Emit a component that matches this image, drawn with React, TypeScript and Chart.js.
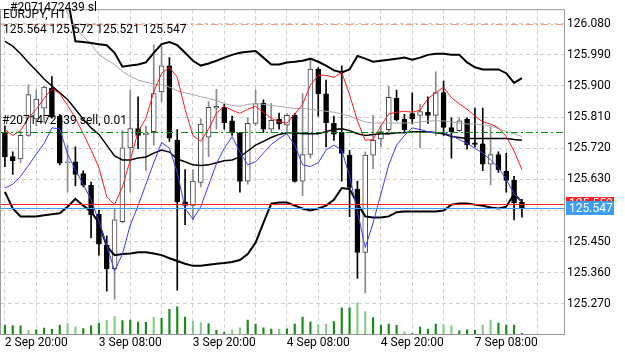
import React, { useEffect, useRef } from 'react';
import { Chart, registerables } from 'chart.js';
Chart.register(...registerables);

// ---- data ----
const opens = [125.765,125.696,125.689,125.757,125.805,125.836,125.894,125.813,125.678,125.681,125.647,125.613,125.530,125.440,125.372,125.508,125.721,125.777,125.759,125.768,125.883,125.958,125.743,125.565,125.555,125.621,125.752,125.836,125.838,125.799,125.764,125.625,125.792,125.850,125.775,125.804,125.787,125.815,125.625,125.702,125.949,125.877,125.792,125.766,125.700,125.602,125.419,125.700,125.747,125.774,125.864,125.804,125.820,125.815,125.824,125.815,125.881,125.780,125.771,125.804,125.736,125.733,125.674,125.702,125.653,125.627,125.564];
const highs = [125.785,125.710,125.768,125.903,125.889,125.900,125.927,125.818,125.729,125.724,125.655,125.622,125.541,125.467,125.546,125.771,125.888,125.869,125.785,126.019,126.014,125.982,125.774,125.658,125.658,125.805,125.855,125.890,125.847,125.813,125.766,125.808,125.888,125.860,125.850,125.822,125.821,125.821,125.878,125.977,125.953,125.917,125.813,125.958,125.714,125.625,125.710,125.815,125.785,125.899,125.888,125.818,125.880,125.847,125.869,125.941,125.914,125.808,125.808,125.808,125.836,125.836,125.785,125.710,125.705,125.639,125.572];
const lows = [125.667,125.644,125.678,125.754,125.785,125.794,125.807,125.672,125.594,125.611,125.608,125.461,125.411,125.307,125.283,125.504,125.594,125.719,125.656,125.729,125.855,125.740,125.310,125.499,125.513,125.608,125.696,125.775,125.775,125.757,125.593,125.616,125.785,125.766,125.766,125.775,125.766,125.622,125.583,125.691,125.813,125.724,125.743,125.625,125.522,125.344,125.302,125.661,125.724,125.761,125.799,125.768,125.790,125.721,125.792,125.757,125.757,125.691,125.768,125.717,125.723,125.655,125.614,125.650,125.593,125.513,125.521];
const closes = [125.695,125.684,125.757,125.875,125.862,125.897,125.811,125.677,125.679,125.644,125.613,125.527,125.443,125.372,125.513,125.721,125.777,125.757,125.764,125.878,125.958,125.749,125.565,125.555,125.625,125.790,125.838,125.841,125.794,125.764,125.624,125.792,125.849,125.775,125.801,125.790,125.815,125.624,125.702,125.949,125.878,125.794,125.761,125.705,125.607,125.419,125.700,125.743,125.768,125.867,125.802,125.774,125.805,125.826,125.815,125.881,125.780,125.768,125.799,125.730,125.731,125.674,125.702,125.658,125.627,125.562,125.547];
const volumes = [558,522,498,222,258,360,282,558,642,438,342,498,678,840,1080,822,858,738,720,1038,960,1518,1680,1038,798,702,642,222,120,258,378,858,618,378,300,300,318,618,1038,738,582,618,762,1620,1620,1938,1380,1020,558,618,540,138,30,420,300,618,582,498,198,258,240,558,858,678,558,558,42];
const volumeShade = [0,0,0,1,0,0,0,0,1,1,0,0,0,1,1,0,0,0,0,1,0,0,0,0,1,1,0,0,0,1,1,0,0,0,0,1,0,0,0,0,1,1,0,0,0,1,1,0,0,0,0,1,0,0,0,0,1,1,0,0,0,1,1,0,0,0,0];
const bbUpper = [null,null,null,null,null,null,null,126.263,126.156,126.029,126.027,126.024,126.021,126.018,125.996,125.956,125.959,125.962,125.968,125.996,126.021,126.027,126.018,125.996,125.973,125.959,125.965,125.973,125.982,125.990,125.996,125.999,126.001,125.982,125.962,125.962,125.968,125.970,125.973,125.979,125.970,125.959,125.945,125.939,125.948,125.987,125.979,125.970,125.973,125.976,125.979,125.982,125.976,125.982,125.990,125.993,125.993,125.990,125.990,125.968,125.954,125.948,125.948,125.948,125.937,125.909,125.923];
const bbMiddle = [126.029,126.015,125.993,125.968,125.945,125.920,125.900,125.880,125.861,125.833,125.804,125.779,125.760,125.729,125.698,125.686,125.686,125.692,125.695,125.706,125.715,125.709,125.689,125.681,125.672,125.670,125.672,125.678,125.684,125.686,125.695,125.712,125.729,125.740,125.751,125.760,125.765,125.765,125.762,125.762,125.762,125.768,125.774,125.776,125.771,125.762,125.757,125.760,125.762,125.762,125.765,125.765,125.768,125.768,125.768,125.765,125.762,125.754,125.751,125.748,125.748,125.748,125.748,125.748,125.748,125.745,125.743];
const bbLower = [125.594,125.546,125.523,125.523,125.523,125.526,125.529,125.532,125.551,125.574,125.554,125.537,125.504,125.436,125.411,125.414,125.416,125.419,125.419,125.416,125.411,125.402,125.394,125.386,125.380,125.380,125.383,125.386,125.388,125.391,125.397,125.414,125.447,125.504,125.560,125.563,125.563,125.554,125.546,125.540,125.546,125.554,125.571,125.605,125.602,125.560,125.523,125.520,125.520,125.523,125.535,125.537,125.537,125.537,125.537,125.537,125.540,125.557,125.560,125.560,125.557,125.554,125.549,125.546,125.551,125.588,125.565];
const maGray = [null,null,null,null,null,null,null,126.164,126.108,126.069,126.043,126.021,125.990,125.976,125.962,125.942,125.928,125.917,125.911,125.906,125.903,125.897,125.886,125.880,125.875,125.869,125.864,125.858,125.849,125.844,125.841,125.847,125.849,125.847,125.844,125.841,125.838,125.835,125.835,125.833,125.830,125.827,125.824,125.819,125.813,125.804,125.796,125.793,125.793,125.793,125.793,125.793,125.793,125.796,125.799,125.799,125.799,125.796,125.793,125.790,125.790,125.788,125.785,125.776,125.768,125.762,125.754];
const maRed = [125.774,125.757,125.771,125.807,125.833,125.864,125.892,125.878,125.844,125.807,125.762,125.715,125.664,125.580,125.557,125.608,125.686,125.768,125.807,125.883,125.937,125.954,125.925,125.833,125.757,125.740,125.776,125.821,125.841,125.830,125.821,125.833,125.841,125.824,125.807,125.796,125.793,125.819,125.847,125.903,125.931,125.931,125.925,125.939,125.875,125.799,125.743,125.745,125.785,125.819,125.824,125.827,125.824,125.830,125.864,125.880,125.897,125.866,125.849,125.833,125.813,125.796,125.790,125.779,125.754,125.712,125.658];
const maBlue = [125.605,125.616,125.639,125.670,125.703,125.734,125.779,125.776,125.703,125.658,125.616,125.571,125.509,125.439,125.366,125.414,125.498,125.554,125.616,125.678,125.737,125.720,125.650,125.546,125.515,125.551,125.613,125.675,125.720,125.754,125.709,125.672,125.681,125.706,125.731,125.748,125.762,125.729,125.672,125.667,125.678,125.715,125.729,125.715,125.639,125.537,125.433,125.504,125.588,125.672,125.729,125.757,125.779,125.774,125.768,125.765,125.765,125.757,125.745,125.734,125.720,125.706,125.686,125.664,125.630,125.588,125.565];

const priceTicks = [125.270,125.360,125.450,125.540,125.630,125.720,125.810,125.900,125.990,126.080];
const hiddenPriceTicks = [125.540];
const timeTickLabels = ['2 Sep 20:00','3 Sep 08:00','3 Sep 20:00','4 Sep 08:00','4 Sep 20:00','7 Sep 08:00'];
const timeTickIndex = [4,16,28,40,52,64];
const totalSlots = 72;
const gridEvery = 4;

const symbolTitle = 'EURJPY, H1';
const ohlcText = '125.564 125.572 125.521 125.547';
const slText = '#2071472439 sl';
const orderText = '#2071472439 sell, 0.01';
const slPrice = 126.080;
const orderPrice = 125.768;
const askPrice = 125.559;
const bidPrice = 125.547;
const priceMin = 125.183;
const priceMax = 126.122;
const volumeMax = 20040;

const FONT = 'Roboto';

export default function App() {
  const ref = useRef<HTMLCanvasElement>(null);
  useEffect(() => {
    document.body.style.margin = '0';
    const canvas = ref.current!;
    const labels = Array.from({ length: totalSlots }, (_, i) => {
      const k = timeTickIndex.indexOf(i);
      return k >= 0 ? timeTickLabels[k] : '';
    });
    const bull = opens.map((o, i) => closes[i] >= o);

    const overlay = {
      id: 'overlay',
      afterDatasetsDraw(chart: any) {
        const ctx = chart.ctx;
        const ca = chart.chartArea;
        const ys = chart.scales.y;
        const hline = (p: number, color: string, dash: number[]) => {
          const y = Math.round(ys.getPixelForValue(p)) + 0.5;
          ctx.save();
          ctx.strokeStyle = color;
          ctx.lineWidth = 1;
          ctx.setLineDash(dash);
          ctx.beginPath();
          ctx.moveTo(ca.left, y);
          ctx.lineTo(ca.right, y);
          ctx.stroke();
          ctx.restore();
        };
        hline(slPrice, '#ff9a80', [7, 3, 2, 3]);
        hline(orderPrice, '#009000', [7, 3, 2, 3]);
        hline(askPrice, '#ff2020', []);
        hline(bidPrice, '#3d9df5', []);
        ctx.save();
        ctx.strokeStyle = '#9a9a9a';
        ctx.lineWidth = 1;
        ctx.strokeRect(ca.left - 0.5, ca.top + 0.5, ca.right - ca.left, ca.bottom - ca.top);
        ctx.restore();
      },
      afterDraw(chart: any) {
        const ctx = chart.ctx;
        const ca = chart.chartArea;
        const ys = chart.scales.y;
        ctx.save();
        ctx.font = `12px ${FONT}`;
        ctx.fillStyle = '#000';
        ctx.textBaseline = 'alphabetic';
        ctx.fillText(slText, 10, 10.5);
        ctx.fillText(symbolTitle, 3, 17.5);
        ctx.fillText(ohlcText, 3, 33);
        ctx.fillText(orderText, 2, 123.5);
        const tag = (p: number, color: string, text: string) => {
          const y = ys.getPixelForValue(p);
          ctx.fillStyle = color;
          ctx.fillRect(ca.right + 1, Math.round(y - 7), 48, 14);
          ctx.fillStyle = '#fff';
          ctx.textBaseline = 'middle';
          ctx.fillText(text, ca.right + 4, y + 0.5);
        };
        tag(askPrice, '#ff2020', askPrice.toFixed(3));
        tag(bidPrice, '#3d9df5', bidPrice.toFixed(3));
        ctx.restore();
      },
    };

    const line = (data: (number | null)[], color: string, width: number, order: number) => ({
      type: 'line' as const,
      data,
      borderColor: color,
      borderWidth: width,
      pointRadius: 0,
      tension: 0,
      fill: false,
      spanGaps: false,
      order,
      yAxisID: 'y',
    });

    const chart = new Chart(canvas, {
      type: 'bar',
      data: {
        labels,
        datasets: [
          {
            type: 'bar',
            data: volumes,
            yAxisID: 'yv',
            backgroundColor: volumeShade.map((s) => (s ? '#86cc86' : '#1a8c1a')),
            barThickness: 1.5,
            grouped: false,
            order: 9,
          } as any,
          {
            type: 'bar',
            data: lows.map((l, i) => [l, highs[i]]),
            yAxisID: 'y',
            backgroundColor: bull.map((b) => (b ? '#8a8a8a' : '#000000')),
            barThickness: 1,
            grouped: false,
            order: 8,
          } as any,
          {
            type: 'bar',
            data: opens.map((o, i) => [o, closes[i]]),
            yAxisID: 'y',
            backgroundColor: bull.map((b) => (b ? '#ffffff' : '#000000')),
            borderColor: bull.map((b) => (b ? '#404040' : '#000000')),
            borderWidth: 1,
            borderSkipped: false,
            barThickness: 5,
            minBarLength: 1,
            grouped: false,
            order: 7,
          } as any,
          line(maGray, '#a8a8a8', 1, 5),
          line(bbUpper, '#000000', 2, 3),
          line(bbMiddle, '#000000', 1.5, 3),
          line(bbLower, '#000000', 2, 3),
          line(maRed, '#ff1a1a', 1, 2),
          line(maBlue, '#3a3aff', 1, 1),
        ] as any,
      },
      options: {
        responsive: false,
        devicePixelRatio: 1,
        animation: false,
        layout: { padding: { left: 1, right: 0, top: 0, bottom: 0 } },
        plugins: { legend: { display: false }, tooltip: { enabled: false } },
        scales: {
          x: {
            type: 'category',
            offset: true,
            grid: {
              offset: false,
              drawTicks: false,
              color: (c: any) => (c.index % gridEvery === 0 ? '#cfcfcf' : 'rgba(0,0,0,0)'),
              lineWidth: 1,
            },
            border: { display: false, dash: [4, 3] },
            ticks: {
              autoSkip: false,
              maxRotation: 0,
              minRotation: 0,
              padding: 2,
              color: '#000',
              font: { family: FONT, size: 12 },
              callback: (_v: any, i: number) => labels[i],
            },
            afterFit: (s: any) => { s.height = 18; },
          },
          y: {
            type: 'linear',
            position: 'right',
            min: priceMin,
            max: priceMax,
            grid: { drawTicks: false, color: '#cfcfcf', lineWidth: 1 },
            border: { display: false, dash: [4, 3] },
            afterBuildTicks: (s: any) => { s.ticks = priceTicks.map((v) => ({ value: v })); },
            ticks: {
              padding: 2,
              color: '#000',
              font: { family: FONT, size: 12 },
              callback: (v: any) => (hiddenPriceTicks.includes(Number(v)) ? '' : Number(v).toFixed(3)),
            },
            afterFit: (s: any) => { s.width = 60; },
          },
          yv: {
            type: 'linear',
            display: false,
            min: 0,
            max: volumeMax,
          },
        },
      } as any,
      plugins: [overlay],
    });
    return () => chart.destroy();
  }, []);
  return (
    <div style={{ width: 625, height: 352 }}>
      <canvas ref={ref} width={625} height={352} style={{ display: 'block' }} />
    </div>
  );
}
